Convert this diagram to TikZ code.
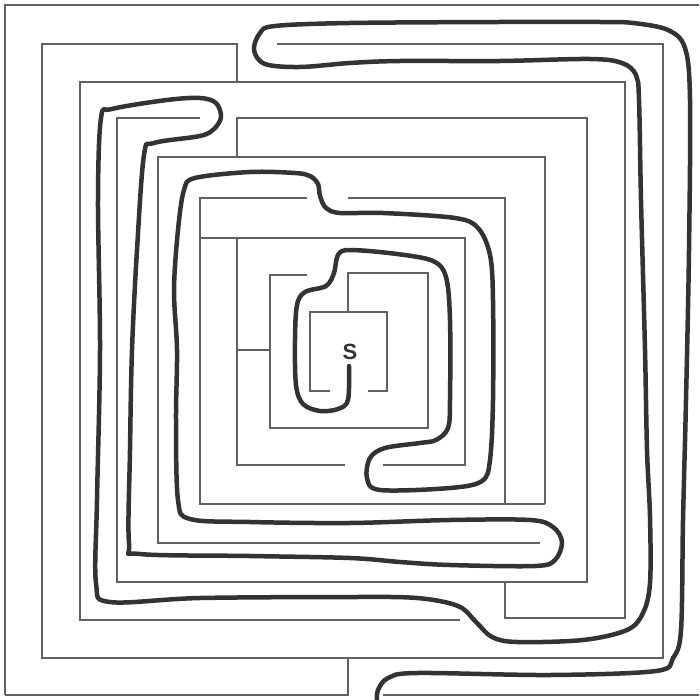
\documentclass[tikz,border=0pt]{standalone}
\usepackage{fontspec}
\newfontfamily\labelfont{Liberation Sans}
\begin{document}
\begin{tikzpicture}[x=1pt,y=-1pt,
  wall/.style={draw=black!62, line width=1.1pt, line join=miter},
  route/.style={draw=black!80, line width=4.5pt, line cap=round, line join=round}]
\useasboundingbox[fill=white] (0,0) rectangle (699,700);
% outer boundary
\draw[wall] (5,695) -- (5,5) -- (699,5);
\draw[wall] (5,695) -- (348,695) -- (348,658);
\draw[wall] (383,695) -- (699,695);
% ring 1
\draw[wall] (237,82) -- (237,44) -- (42,44) -- (42,658) -- (663,658) -- (663,44) -- (277,44);
% ring 2
\draw[wall] (460,620) -- (80,620) -- (80,82) -- (625,82) -- (625,618) -- (505,618) -- (505,582);
% ring 3
\draw[wall] (200,118) -- (117,118) -- (117,582) -- (587,582) -- (587,118) -- (237,118) -- (237,157);
% ring 4
\draw[wall] (540,543) -- (158,543) -- (158,157) -- (545,157) -- (545,504);
% ring 5
\draw[wall] (307,198) -- (200,198) -- (200,504) -- (545,504);
\draw[wall] (348,198) -- (505,198) -- (505,504);
% ring 6
\draw[wall] (200,238) -- (465,238) -- (465,465) -- (383,465);
\draw[wall] (237,238) -- (237,465) -- (345,465);
\draw[wall] (237,350) -- (270,350);
% ring 7
\draw[wall] (307,275) -- (270,275) -- (270,428) -- (428,428) -- (428,273) -- (348,273) -- (348,312);
% inner box
\draw[wall] (330,391) -- (310,391) -- (310,312) -- (387,312) -- (387,391) -- (368,391);
\node[font=\labelfont\bfseries\fontsize{22}{22}\selectfont, text=black!80, inner sep=0pt] (s) at (350,352) {S};
% solution route
\draw[route] plot[smooth, tension=0.55] coordinates {
 (349,366) (348,400) (338,409) (320,411) (303,404) (296,385) (295,340) (297,305)
 (305,292) (326,286) (334,273) (338,255) (350,250) (397,254) (433,261) (446,277)
 (450,320) (450,400) (448,428) (436,440) (420,443) (385,448) (370,458) (367,478)
 (380,490) (450,488) (482,481) (490,460) (493,400) (493,300) (490,255) (478,228)
 (455,218) (383,213) (340,213) (326,208) (320,196) (318,184) (310,176) (295,173)
 (250,172) (195,178) (184,190) (178,230) (174,290) (177,350) (176,420) (178,500)
 (190,519) (250,522) (350,523) (450,520) (530,520) (553,527) (562,542) (555,560)
 (535,566) (450,565) (400,562) (350,558) (250,556) (140,554) (129,543) (130,450)
 (132,350) (137,250) (144,155) (154,143) (200,136) (214,129) (221,117) (216,103)
 (200,98) (167,100) (112,109) (101,118) (98,200) (100,350) (97,500) (96,583)
 (110,602) (200,598) (350,597) (417,598) (458,606) (476,622) (492,637) (517,642)
 (583,640) (627,630) (643,613) (650,583) (650,517) (647,450) (645,350) (641,200)
 (639,100) (636,75) (622,63) (590,59) (500,61) (400,61) (350,63) (300,67)
 (265,64) (254,50) (260,33) (275,26) (350,23) (500,22) (600,22) (633,23)
 (668,30) (685,48) (690,100) (689,250) (686,400) (683,520) (681,630) (673,658)
 (656,671) (550,675) (417,673) (388,678) (378,690) (377,700)};
\end{tikzpicture}
\end{document}
